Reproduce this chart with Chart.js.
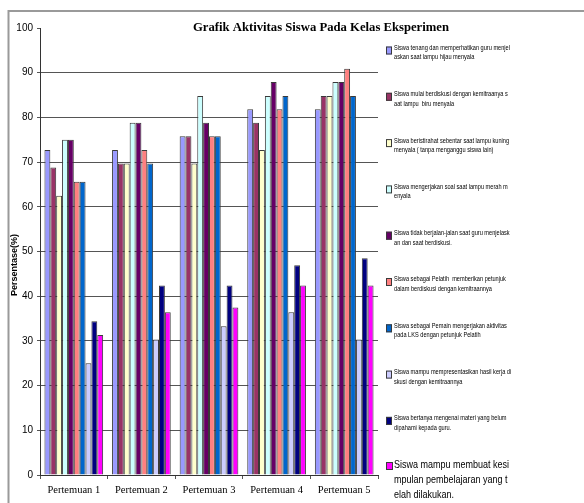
<!DOCTYPE html>
<html>
<head>
<meta charset="utf-8">
<script src="https://cdn.jsdelivr.net/npm/chart.js@4/dist/chart.umd.min.js"></script>
<style>
  html, body { margin: 0; padding: 0; background: #fff; }
  #wrap { position: relative; width: 584px; height: 503px; }
</style>
</head>
<body>
<div id="wrap"><canvas id="c" width="584" height="503"></canvas></div>
<script>
// ---------- DATA ----------
const chartTitle = 'Grafik Aktivitas Siswa Pada Kelas Eksperimen';
const yAxisTitle = 'Persentase(%)';
const categories = ['Pertemuan 1', 'Pertemuan 2', 'Pertemuan 3', 'Pertemuan 4', 'Pertemuan 5'];
const yTicks = [0, 10, 20, 30, 40, 50, 60, 70, 80, 90, 100];

const seriesLabels = [
  ['Siswa tenang dan memperhatikan guru menjel', 'askan saat lampu hijau menyala'],
  ['Siswa mulai berdiskusi dengan kemitraanya s', 'aat lampu  biru menyala'],
  ['Siswa beristirahat sebentar saat lampu kuning', 'menyala ( tanpa menganggu siswa lain)'],
  ['Siswa mengerjakan soal saat lampu merah m', 'enyala'],
  ['Siswa tidak berjalan-jalan saat guru menjelask', 'an dan saat berdiskusi.'],
  ['Siswa sebagai Pelatih  memberikan petunjuk', 'dalam berdiskusi dengan kemitraannya'],
  ['Siswa sebagai Pemain mengerjakan aktivitas', 'pada LKS dengan petunjuk Pelatih'],
  ['Siswa mampu mempresentasikan hasil kerja di', 'skusi dengan kemitraannya'],
  ['Siswa bertanya mengenai materi yang belum', 'dipahami kepada guru.'],
  ['Siswa mampu membuat kesi', 'mpulan pembelajaran yang t', 'elah dilakukan.']
];

const s1  = [72.7, 72.7, 75.8, 81.8, 81.8];
const s2  = [68.8, 69.7, 75.8, 78.8, 84.8];
const s3  = [62.5, 69.7, 69.7, 72.7, 84.8];
const s4  = [75.0, 78.8, 84.8, 84.8, 87.9];
const s5  = [75.0, 78.8, 78.8, 87.9, 87.9];
const s6  = [65.6, 72.7, 75.8, 81.8, 90.9];
const s7  = [65.6, 69.7, 75.8, 84.8, 84.8];
const s8  = [25.0, 30.3, 33.3, 36.4, 30.3];
const s9  = [34.4, 42.4, 42.4, 46.9, 48.5];
const s10 = [31.3, 36.4, 37.5, 42.4, 42.4];

const seriesValues = [s1, s2, s3, s4, s5, s6, s7, s8, s9, s10];
const seriesColors = ['#9999FF', '#993366', '#FFFFCC', '#CCFFFF', '#660066',
                      '#FF8080', '#0066CC', '#CCCCFF', '#000080', '#FF00FF'];

// ---------- CHART ----------
const datasets = seriesValues.map((vals, i) => ({
  label: seriesLabels[i].join(''),
  data: vals,
  backgroundColor: seriesColors[i],
  borderColor: '#3a3a3a',
  borderWidth: 1,
  borderSkipped: 'start',
  categoryPercentage: 0.868,
  barPercentage: 1.0
}));

const decorPlugin = {
  id: 'decor',
  beforeDraw(chart) {
    const ctx = chart.ctx;
    ctx.save();
    ctx.fillStyle = '#ffffff';
    ctx.fillRect(0, 0, chart.width, chart.height);
    // outer frame
    ctx.strokeStyle = '#9a9a9a';
    ctx.lineWidth = 2;
    ctx.beginPath();
    ctx.moveTo(8.5, chart.height);
    ctx.lineTo(8.5, 11);
    ctx.lineTo(chart.width, 11);
    ctx.stroke();
    ctx.restore();
  },
  afterDraw(chart) {
    const ctx = chart.ctx;
    ctx.save();
    // Title
    ctx.fillStyle = '#000';
    ctx.font = 'bold 12px "Liberation Serif"';
    ctx.textBaseline = 'middle';
    ctx.textAlign = 'left';
    const tw = ctx.measureText(chartTitle).width;
    const tsx = 256 / tw;
    ctx.save();
    ctx.translate(193, 28);
    ctx.scale(tsx, 1);
    ctx.fillText(chartTitle, 0, 0);
    ctx.restore();

    // Y axis title
    ctx.save();
    ctx.font = 'bold 9px "Liberation Sans"';
    ctx.textAlign = 'center';
    ctx.textBaseline = 'middle';
    ctx.translate(15, 265);
    ctx.rotate(-Math.PI / 2);
    ctx.fillText(yAxisTitle, 0, 0);
    ctx.restore();

    // Legend
    const smallFont = '7px "Liberation Sans"';
    const bigFont = '11px "Liberation Sans"';
    ctx.font = smallFont;
    const sxSmall = 116 / ctx.measureText(seriesLabels[0][0]).width;
    ctx.font = bigFont;
    const sxBig = 115 / ctx.measureText(seriesLabels[9][0]).width;
    ctx.textAlign = 'left';
    ctx.textBaseline = 'middle';
    seriesLabels.forEach((lines, i) => {
      const last = i === seriesLabels.length - 1;
      const y0 = last ? 465 : 48 + i * 46.3;
      // box
      ctx.fillStyle = seriesColors[i];
      ctx.strokeStyle = '#3a3a3a';
      ctx.lineWidth = 1;
      if (last) {
        ctx.fillRect(386, 462, 7, 8);
        ctx.strokeRect(386.5, 462.5, 6, 7);
      } else {
        ctx.fillRect(386, y0 - 1.5, 6, 8);
        ctx.strokeRect(386.5, y0 - 1, 5, 7);
      }
      ctx.fillStyle = '#000';
      ctx.font = last ? bigFont : smallFont;
      const lh = last ? 15 : 9.5;
      const sx = last ? sxBig : sxSmall;
      lines.forEach((ln, k) => {
        ctx.save();
        ctx.translate(394, y0 + k * lh);
        ctx.scale(sx, 1);
        ctx.fillText(ln, 0, 0);
        ctx.restore();
      });
    });
    ctx.restore();
  }
};

new Chart(document.getElementById('c'), {
  type: 'bar',
  data: { labels: categories, datasets },
  plugins: [decorPlugin],
  options: {
    responsive: false,
    animation: false,
    devicePixelRatio: 1,
    layout: { padding: { left: 0, top: 28, right: 206, bottom: 0 } },
    plugins: {
      legend: { display: false },
      title: { display: false },
      tooltip: { enabled: false }
    },
    scales: {
      x: {
        afterFit(scale) { scale.height = 28; },
        grid: {
          offset: true,
          drawOnChartArea: false,
          drawTicks: true,
          tickLength: 4,
          color: '#555'
        },
        border: { display: true, color: '#333', width: 1 },
        ticks: {
          color: '#000',
          padding: 5,
          maxRotation: 0,
          font: { family: '"Liberation Serif"', size: 10.5 }
        }
      },
      y: {
        min: 0,
        max: 100,
        afterFit(scale) { scale.width = 40; },
        afterBuildTicks(scale) { scale.ticks = yTicks.map(v => ({ value: v })); },
        grid: {
          color: (c) => (c.tick && (c.tick.value === 100 || c.tick.value === 0)) ? 'rgba(0,0,0,0)' : '#555',
          tickColor: '#555',
          tickLength: 3,
          drawTicks: true
        },
        border: { display: true, color: '#333', width: 1 },
        ticks: {
          color: '#000',
          padding: 4,
          font: { family: '"Liberation Sans"', size: 10 }
        }
      }
    }
  }
});
</script>
</body>
</html>
